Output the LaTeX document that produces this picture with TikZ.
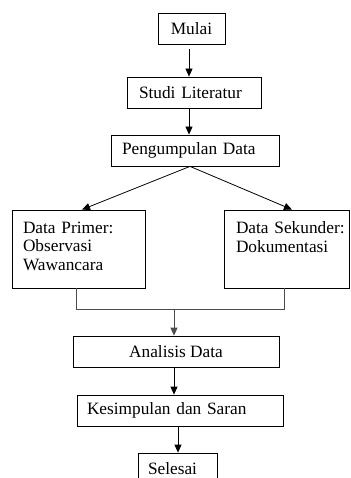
\documentclass[tikz,border=0pt]{standalone}
\usepackage{fontspec}
\setmainfont{Liberation Serif}
\usetikzlibrary{arrows.meta}
\begin{document}
\begin{tikzpicture}[x=1pt,y=-1pt,
 box/.style={draw, line width=0.8pt, inner ysep=0pt, font=\fontsize{17.3}{18.5}\selectfont, align=left},
 arr/.style={line width=0.8pt, -{Triangle[length=8pt,width=7pt]}},
 merge/.style={line width=0.8pt, draw=black!70}]
\useasboundingbox (0,0) rectangle (350,478);
\clip (0,0) rectangle (350,478);
\node[box, inner xsep=0pt, minimum width=67pt, minimum height=31pt, align=center] (m) at (191.5,28.5) {Mulai};
\node[box, inner xsep=12pt, text width=110pt, minimum height=31pt] (s) at (194,92.5) {Studi Literatur};
\node[box, inner xsep=11pt, text width=146pt, minimum height=31pt] (p) at (195,150.5) {Pengumpulan Data};
\node[box, inner xsep=11pt, text width=111pt, minimum height=78pt] (dp) at (78.5,249) {\mbox{Data Primer:}\\Observasi\\Wawancara\strut};
\node[box, inner xsep=12pt, text width=101pt, minimum height=78pt] (ds) at (286.5,249) {\mbox{Data Sekunder:}\\Dokumentasi\\\strut};
\node[box, inner xsep=0pt, minimum width=206pt, minimum height=31pt, align=center] (a) at (176,351.5) {Analisis Data};
\node[box, inner xsep=10pt, text width=186pt, minimum height=31pt] (k) at (180,410.5) {Kesimpulan dan Saran};
\node[box, inner xsep=10pt, text width=59pt, minimum height=31pt] (se) at (177.5,468.5) {Selesai};
\draw[arr] ([xshift=-2.5pt,yshift=-5pt]m.south) -- ([xshift=-2.5pt]m.south |- s.north);
\draw[arr] ([xshift=-5pt]s.south) -- ([xshift=-5pt]s.south |- p.north);
\draw[arr] ([xshift=-5pt]p.south) -- ([xshift=3.5pt]dp.north);
\draw[arr] ([xshift=-5pt]p.south) -- ([xshift=5.5pt]ds.north);
\coordinate (j) at ([xshift=-2.5pt,yshift=-21pt]dp.south);
\draw[merge] ([xshift=-2.5pt]dp.south) -- (j) -| ([xshift=-2.5pt]ds.south);
\draw[arr, draw=black!70] ([xshift=-2pt]a.north |- j) -- ([xshift=-2pt]a.north);
\draw[arr] ([xshift=-2pt]a.south) -- ([xshift=-2pt]a.south |- k.north);
\draw[arr] ([xshift=-2pt]k.south) -- ([xshift=-2pt]k.south |- se.north);
\end{tikzpicture}
\end{document}
